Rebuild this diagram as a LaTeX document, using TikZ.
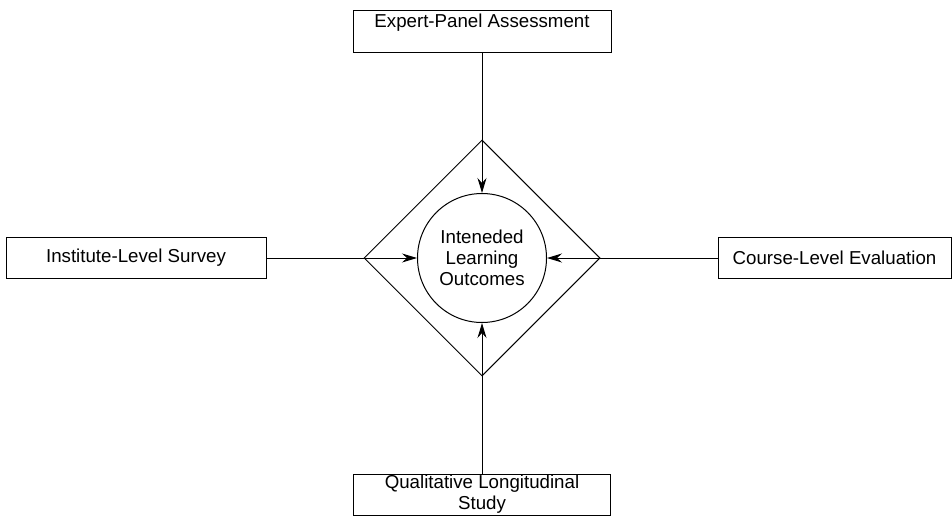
\documentclass[tikz,border=0pt]{standalone}
\usepackage{fontspec}
\setmainfont{Liberation Sans}
\usepackage{tikz}
\usetikzlibrary{shapes.geometric,arrows.meta,positioning}

\begin{document}
\begin{tikzpicture}[
  x=1pt, y=-1pt,
  line width=1pt,
  every node/.style={font=\fontsize{18.7}{21}\selectfont},
  source/.style ={rectangle, draw, minimum height=41pt, align=center,
                  inner sep=3pt},
  outcome/.style={circle, draw, minimum size=129pt, align=center,
                  inner sep=0pt},
  frame/.style  ={diamond, draw, minimum size=236pt, inner sep=0pt},
  feed/.style   ={-{Stealth[length=15pt, width=9pt, inset=5pt]}}
]
\useasboundingbox (0,0) rectangle (952,516);

\node[frame] (rim) at (482,258) {};
\node[outcome] (ilo) at (482,258) {Inteneded\\Learning\\Outcomes};

\node[source, minimum width=258pt, minimum height=42pt,
      text height=13.4pt, text depth=21.4pt, above=140pt of ilo] (expert)
  {Expert-Panel Assessment};
\node[source, minimum width=260pt, left=150.5pt of ilo] (survey)
  {Institute-Level Survey};
\node[source, minimum width=233pt, right=170.5pt of ilo] (course)
  {Course-Level Evaluation};
\node[source, minimum width=257pt, inner ysep=1pt,
      below=150.5pt of ilo] (study)
  {Qualitative Longitudinal\\Study};

\draw[feed] (expert.south) -- (ilo.north);
\draw[feed] (survey.east) -- (ilo.west);
\draw[feed] (course.west) -- (ilo.east);
\draw[feed] (study.north) -- (ilo.south);
\end{tikzpicture}
\end{document}
